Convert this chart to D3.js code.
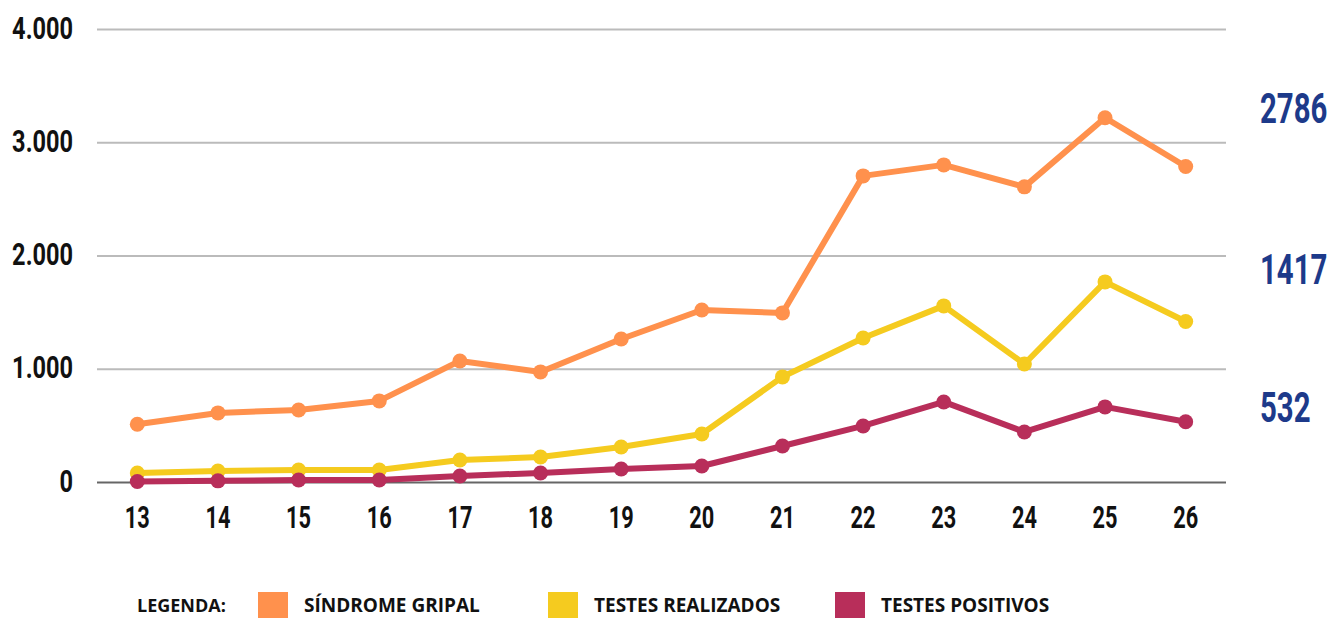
<!DOCTYPE html>
<html>
<head>
<meta charset="utf-8">
<script src="https://cdn.jsdelivr.net/npm/d3@7"></script>
<style>
  html, body { margin: 0; padding: 0; background: #fff; }
  #chart { width: 1329px; height: 618px; }
  .num { font-family: Roboto, "DejaVu Sans", sans-serif; font-weight: bold; }
  .leg { font-family: "Open Sans", "Liberation Sans", sans-serif; font-weight: bold; }
</style>
</head>
<body>
<div id="chart"></div>
<script>
// semanas epidemiológicas
const weeks = [13, 14, 15, 16, 17, 18, 19, 20, 21, 22, 23, 24, 25, 26];
const sindromeGripal = [510, 610, 636, 716, 1069, 972, 1263, 1519, 1493, 2703, 2800, 2606, 3216, 2786];
const testesRealizados = [80, 97, 106, 106, 194, 221, 309, 424, 928, 1272, 1555, 1042, 1767, 1417];
const testesPositivos = [5, 10, 18, 18, 53, 80, 115, 141, 318, 495, 707, 442, 663, 532];
const yTicks = [0, 1000, 2000, 3000, 4000];
const seriesNames = ['SÍNDROME GRIPAL', 'TESTES REALIZADOS', 'TESTES POSITIVOS'];
const seriesColors = ['#FF914D', '#F5CB1F', '#B82E5A'];
// onde ficam os rótulos do último valor (em unidades do eixo y)
const lastLabelAt = [3300, 1880, 660];

const series = [sindromeGripal, testesRealizados, testesPositivos].map((vals, i) => ({
  name: seriesNames[i], color: seriesColors[i], values: vals, labelAt: lastLabelAt[i]
}));

const W = 1329, H = 618;
const margin = { top: 29, right: 103, bottom: 136, left: 97 };
const w = W - margin.left - margin.right;
const h = H - margin.top - margin.bottom;

const svg = d3.select('#chart').append('svg').attr('width', W).attr('height', H);
const g = svg.append('g').attr('transform', `translate(${margin.left},${margin.top})`);

const x = d3.scalePoint().domain(weeks).range([0, w]).padding(0.5);
const y = d3.scaleLinear().domain([0, 4000]).range([h, 0]);

// texto condensado (fonte estreita simulada)
function condensed(sel, sx) {
  sel.attr('transform', function(d) {
    const px = +this.getAttribute('data-x'), py = +this.getAttribute('data-y');
    return `translate(${px},${py}) scale(${sx},1)`;
  });
}

// grid
const grid = g.append('g')
  .call(d3.axisLeft(y).tickValues(yTicks).tickSize(-w).tickFormat(''));
grid.select('.domain').remove();
grid.selectAll('.tick line')
  .attr('stroke', d => d === 0 ? '#666' : '#bbb')
  .attr('stroke-width', 2);

// y labels
g.selectAll('.ylab').data(yTicks).join('text')
  .attr('class', 'num ylab')
  .attr('data-x', -24).attr('data-y', d => y(d) + 9.5)
  .attr('text-anchor', 'end')
  .attr('font-size', 31).attr('fill', '#111')
  .text(d => d3.format(',')(d).replace(/,/g, '.'))
  .call(condensed, 0.76);

// x labels
g.selectAll('.xlab').data(weeks).join('text')
  .attr('class', 'num xlab')
  .attr('data-x', d => x(d)).attr('data-y', h + 46)
  .attr('text-anchor', 'middle')
  .attr('font-size', 32).attr('fill', '#111')
  .text(d => d)
  .call(condensed, 0.68);

// lines + points
const line = d3.line().x((d, i) => x(weeks[i])).y(d => y(d));
const sg = g.selectAll('.series').data(series).join('g').attr('class', 'series');
sg.append('path')
  .attr('d', d => line(d.values))
  .attr('fill', 'none').attr('stroke', d => d.color)
  .attr('stroke-width', 6).attr('stroke-linejoin', 'round');
sg.selectAll('circle').data(d => d.values.map(v => ({ v, c: d.color })))
  .join('circle')
  .attr('cx', (d, i) => x(weeks[i])).attr('cy', d => y(d.v))
  .attr('r', 7.5).attr('fill', d => d.c);

// último valor à direita
g.selectAll('.last').data(series).join('text')
  .attr('class', 'num last')
  .attr('data-x', w + 34).attr('data-y', d => y(d.labelAt) + 15)
  .attr('font-size', 42).attr('fill', '#1D3A8A')
  .text(d => d.values[d.values.length - 1])
  .call(condensed, 0.7);

// legenda
const lg = svg.append('g').attr('transform', `translate(137, 612)`);
lg.append('text').attr('class', 'leg')
  .attr('font-size', 18).attr('fill', '#111').text('LEGENDA:');
const legX = [121, 411, 698];
series.forEach((s, i) => {
  lg.append('rect').attr('x', legX[i]).attr('y', -20)
    .attr('width', 30).attr('height', 26).attr('fill', s.color);
  lg.append('text').attr('class', 'leg')
    .attr('x', legX[i] + 46).attr('y', 0)
    .attr('font-size', 19).attr('fill', '#111').text(s.name);
});
</script>
</body>
</html>
